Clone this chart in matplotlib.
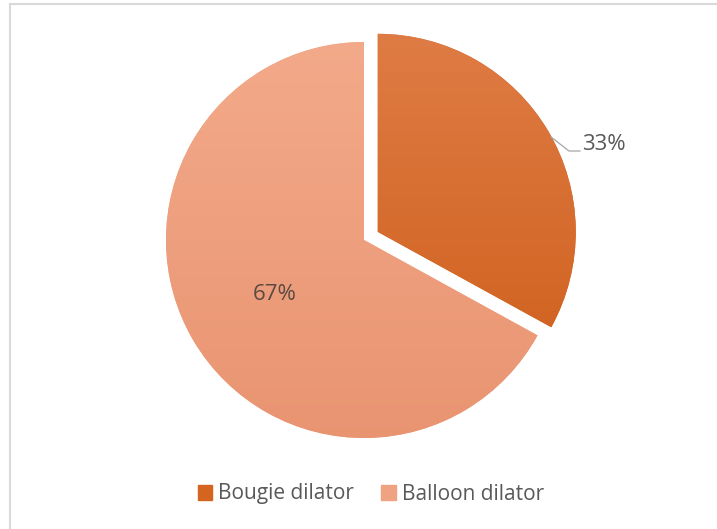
import numpy as np
import matplotlib
matplotlib.use("Agg")
import matplotlib.pyplot as plt
from matplotlib.colors import LinearSegmentedColormap
from matplotlib.lines import Line2D

plt.rcParams['font.family'] = ['Open Sans', 'DejaVu Sans']

# dilator types and their share of cases
labels = ['Bougie dilator', 'Balloon dilator']
shares = [33, 67]
pct_text = ['33%', '67%']

# top / bottom shade of each slice
top_colors = ['#E07E48', '#F4AC8C']
bot_colors = ['#CB5912', '#E8926F']
legend_colors = ['#D4641F', '#F0A383']

W, H = 717, 529
fig = plt.figure(figsize=(W / 100, H / 100), dpi=100)
ax = fig.add_axes([0, 0, 1, 1])

cx, cy, r = 364, H - 240, 198

# pie explode offsets are in data units here (pixels)
wedges, _ = ax.pie(shares, startangle=90, counterclock=False,
                   explode=[16, 0], radius=r, center=(cx, cy),
                   colors=legend_colors, wedgeprops=dict(linewidth=0))

# vertical gradient fill clipped to each wedge
grad = np.linspace(0, 1, 256).reshape(-1, 1)
for w, c0, c1 in zip(wedges, top_colors, bot_colors):
    cmap = LinearSegmentedColormap.from_list('g', [c1, c0])
    im = ax.imshow(grad, cmap=cmap, origin='lower', aspect='auto',
                   extent=(cx - r - 40, cx + r + 40, cy - r - 40, cy + r + 40),
                   zorder=w.get_zorder() + 0.1)
    im.set_clip_path(w)

# value labels
ax.text(582, H - 145, pct_text[0], fontsize=16, color='#595959',
        ha='left', va='center')
ax.plot([551, 569, 580], [H - 137, H - 151, H - 151], color='#A6A6A6', lw=0.9)
ax.text(275, H - 295, pct_text[1], fontsize=16, color='#5A4A42',
        ha='center', va='center')

# frame lines along top and left
ax.add_line(Line2D([10, W], [H - 3.5, H - 3.5], color='#D9D9D9', lw=1.5))
ax.add_line(Line2D([10, 10], [0, H - 3.5], color='#D9D9D9', lw=1.5))

handles = [plt.Rectangle((0, 0), 1, 1, color=c) for c in legend_colors]
fig.legend(handles, labels, loc='center', bbox_to_anchor=(371 / W, 1 - 494 / H),
           ncol=2, frameon=False, fontsize=15, handlelength=0.7,
           handleheight=0.7, handletextpad=0.3, columnspacing=1.3,
           labelcolor='#595959')

ax.set_xlim(0, W)
ax.set_ylim(0, H)
ax.set_aspect('equal')
ax.axis('off')

fig.savefig('out.png', dpi=100)
